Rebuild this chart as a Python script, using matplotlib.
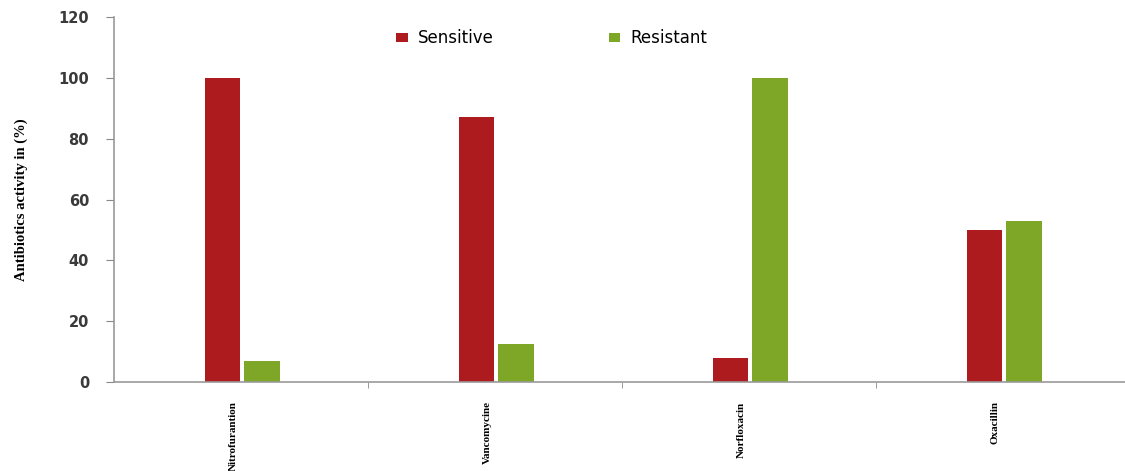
import matplotlib
matplotlib.use("Agg")
import matplotlib.pyplot as plt
import numpy as np

categories = ["Nitrofurantion", "Vancomycine", "Norfloxacin", "Oxacillin"]
sensitive = [100, 87, 8, 50]
resistant = [7, 12.5, 100, 53]
yticks = [0, 20, 40, 60, 80, 100, 120]

fig = plt.figure(figsize=(11.25, 4.71), dpi=100)
left = 114 / 1125
right = 1130 / 1125
bottom = (471 - 382) / 471
top = (471 - 17) / 471
ax = fig.add_axes([left, bottom, right - left, top - bottom])

x = np.arange(len(categories))
w = 0.14
gap = 0.008
ax.bar(x - w / 2 - gap + 0.005, sensitive, w, color="#AD1B1E", label="Sensitive")
ax.bar(x + w / 2 + gap + 0.005, resistant, w, color="#7EA727", label="Resistant")

ax.set_xlim(-0.5, len(categories) - 0.5)
ax.set_ylim(0, 120)
ax.set_yticks(yticks)
ax.set_yticklabels([str(v) for v in yticks], fontfamily="DejaVu Sans", fontweight="bold",
                   fontsize=10.5, color="#3a3a3a")
ax.set_xticks(x - 0.03)
ax.set_xticklabels(categories, rotation=90, fontfamily="Liberation Serif", fontweight="bold",
                   fontsize=8, va="top", ha="center")
ax.tick_params(axis="x", length=0, pad=14)
ax.set_xticks(np.arange(len(categories) - 1) + 0.5, minor=True)
ax.tick_params(axis="x", which="minor", length=4, direction="out", color="#888888")
ax.tick_params(axis="y", length=6, direction="out", color="#888888", pad=12)

for s in ["top", "right"]:
    ax.spines[s].set_visible(False)
for s in ["left", "bottom"]:
    ax.spines[s].set_color("#999999")
    ax.spines[s].set_linewidth(1.2)

ax.set_ylabel("Antibiotics activity in (%)", fontfamily="Liberation Serif", fontweight="bold",
              fontsize=10.5, labelpad=22)

leg = ax.legend(loc="center left", bbox_to_anchor=((381 - 114) / 1016, 0.942), ncol=2, frameon=False,
                prop={"family": "DejaVu Sans", "size": 12}, handlelength=0.7, handleheight=0.5,
                columnspacing=6.9, handletextpad=0.6)

fig.savefig("out.png", dpi=100)
